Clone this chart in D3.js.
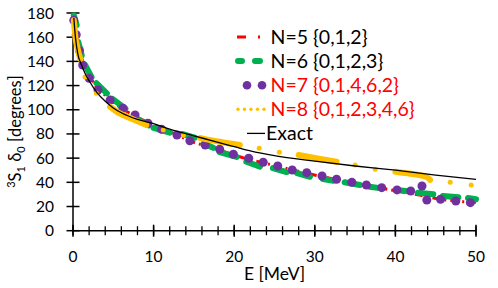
<!DOCTYPE html>
<html>
<head>
<meta charset="utf-8">
<script src="https://cdn.jsdelivr.net/npm/d3@7"></script>
<style>
  body { margin: 0; background: #fff; }
  svg { font-family: Lato, "Open Sans", sans-serif; }
</style>
</head>
<body>
<div id="chart"></div>
<script>
// exact phase shift curve
var exactE = [0.1, 0.3, 0.6, 1, 1.5, 2, 3, 4, 5, 6, 8, 10, 12, 15, 18, 20, 22, 25, 30, 35, 40, 45, 50];
var exactV = [176, 160, 146, 138, 130, 124, 114, 107, 101.5, 97.5, 92, 88.5, 84, 78.5, 73, 69.5, 66, 62, 57.5, 53.5, 50, 46, 42.5];

// N=5 {0,1,2}
var n5E = [0.1, 0.4, 0.8, 1.2, 2, 3, 4.5, 6, 7.1, 8.5, 10, 12, 13.5, 14.7, 16.5, 18.2, 20, 22, 24.8, 27, 30.3, 32.5, 35.6, 38, 40.6, 43, 45.5, 48.4, 50];
var n5V = [176, 163, 150, 140, 128, 118, 109, 101, 97, 92, 87.4, 82, 77.5, 73.6, 70, 66.5, 62.5, 58.5, 54.3, 50.5, 45.6, 42.5, 37.8, 35.5, 32.3, 29.5, 26, 24, 23.5];

// N=6 {0,1,2,3} - pieces of the curve (start E, start V, end E, end V)
var n6Pieces = [
  [0.1, 178, 0.45, 170], [0.66, 156, 1.08, 145], [1.5, 137, 2.3, 127],
  [2.9, 122, 4.2, 113.6], [4.9, 109, 6.5, 101], [7.5, 94, 9.4, 87],
  [10, 85, 12, 81], [13.5, 80, 15.1, 77], [16.2, 72, 17.4, 68.5],
  [18.2, 65, 20.3, 61], [21.5, 57, 23.2, 53], [24.8, 51.8, 26.5, 48.5],
  [27.8, 47.7, 29.4, 44.6], [31, 42.7, 32.3, 41.3], [33.7, 40, 35.6, 37.8],
  [36.8, 36.4, 38.3, 35], [40.2, 33.7, 42, 32.3], [42.8, 31.4, 44.7, 30.1],
  [45.9, 28.7, 47.8, 27.6], [49, 27, 50, 26]
];

// N=7 {0,1,4,6,2}
var n7E = [0.1, 0.4, 0.8, 1.2, 2, 3.1, 4.6, 6.2, 7.7, 9.3, 11, 12.9, 14.5, 16.4, 18.2, 19.9, 21.8, 23.6, 25.4, 27.2, 29, 30.9, 32.7, 34.6, 36.4, 38.3, 40.2, 41.9, 43.3, 43.9, 45.6, 47.5, 49.3];
var n7V = [174, 162, 149, 137, 126, 116.3, 108, 101.2, 95.7, 88.8, 83.8, 79.1, 74.4, 70.9, 67.3, 63.2, 59.9, 56.6, 53.5, 50.2, 48, 45.2, 42.5, 40, 37.8, 35.6, 33.7, 32.8, 37, 25.4, 26, 24.6, 23.2];

// N=8 {0,1,2,3,4,6} - dense runs and single points
var n8Runs = [
  [[0.1, 174], [0.3, 160], [0.6, 150], [0.9, 142]],
  [[4.6, 102.5], [5.8, 97], [7.5, 92], [9.1, 87.4]],
  [[15.8, 76.6], [18.2, 73.6], [20.7, 70.9]],
  [[28, 62.6], [30.5, 59.5], [32.7, 57]],
  [[40, 48.8], [41.5, 47.5], [43, 46], [44, 44], [44.3, 42]]
];
var n8SingleE = [1.5, 2.9, 11.2, 13.7, 23.1, 25.6, 35, 37.5, 46.8, 49.4];
var n8SingleV = [127, 113.6, 83.3, 79, 68.1, 64.8, 54.3, 50.8, 40, 37.8];

var xTicks = [0, 10, 20, 30, 40, 50];
var xMinor = d3.range(0, 51, 2);
var yTicks = [0, 20, 40, 60, 80, 100, 120, 140, 160, 180];

var legendNames = ["N=5 {0,1,2}", "N=6 {0,1,2,3}", "N=7 {0,1,4,6,2}", "N=8 {0,1,2,3,4,6}", "Exact"];
var legendTextColors = ["#000", "#000", "#ff0000", "#ff0000", "#000"];

var width = 498, height = 288;
var svg = d3.select("#chart").append("svg")
    .attr("width", width)
    .attr("height", height);

var x = d3.scaleLinear().domain([0, 50]).range([73, 476]);
var y = d3.scaleLinear().domain([0, 180]).range([230.7, 13]);

var line = d3.line()
    .x(function(d) { return x(d[0]); })
    .y(function(d) { return y(d[1]); });

// axes
var xAxis = svg.append("g").attr("transform", "translate(0," + y(0) + ")");
xAxis.append("line").attr("x1", x(0)).attr("x2", x(50))
    .attr("stroke", "#000").attr("stroke-width", 1.5);
xAxis.selectAll(".minor").data(xMinor).enter().append("line")
    .attr("x1", function(d) { return x(d); }).attr("x2", function(d) { return x(d); })
    .attr("y1", -4.5).attr("y2", 4.5)
    .attr("stroke", "#000").attr("stroke-width", 1.3);
xAxis.selectAll(".major").data(xTicks).enter().append("line")
    .attr("x1", function(d) { return x(d); }).attr("x2", function(d) { return x(d); })
    .attr("y1", -6).attr("y2", 6)
    .attr("stroke", "#000").attr("stroke-width", 1.5);
xAxis.selectAll("text").data(xTicks).enter().append("text")
    .attr("x", function(d) { return x(d); })
    .attr("y", 31)
    .attr("text-anchor", "middle")
    .style("font-size", "15.5px")
    .text(function(d) { return d; });

var yAxis = svg.append("g").attr("transform", "translate(" + x(0) + ",0)");
yAxis.append("line").attr("y1", y(0)).attr("y2", y(180))
    .attr("stroke", "#000").attr("stroke-width", 1.5);
yAxis.selectAll(".major").data(yTicks).enter().append("line")
    .attr("y1", function(d) { return y(d); }).attr("y2", function(d) { return y(d); })
    .attr("x1", -6.5).attr("x2", 6.5)
    .attr("stroke", "#000").attr("stroke-width", 1.5);
yAxis.selectAll("text").data(yTicks).enter().append("text")
    .attr("x", -19)
    .attr("y", function(d) { return y(d) + 5.5; })
    .attr("text-anchor", "end")
    .style("font-size", "15.5px")
    .text(function(d) { return d; });

// axis titles
svg.append("text")
    .attr("x", x(25)).attr("y", 280)
    .attr("text-anchor", "middle")
    .style("font-size", "17.5px")
    .text("E [MeV]");

var yTitle = svg.append("text")
    .attr("transform", "translate(21,131.5) rotate(-90)")
    .attr("text-anchor", "middle")
    .style("font-size", "16.5px");
yTitle.append("tspan").attr("dy", -6).style("font-size", "11px").text("3");
yTitle.append("tspan").attr("dy", 6).text("S");
yTitle.append("tspan").attr("dy", 4).style("font-size", "11px").text("1");
yTitle.append("tspan").attr("dy", -4).text(" δ");
yTitle.append("tspan").attr("dy", 4).style("font-size", "11px").text("0");
yTitle.append("tspan").attr("dy", -4).text(" [degrees]");

// series
var plot = svg.append("g");

plot.append("path")
    .datum(d3.zip(n5E, n5V))
    .attr("d", line)
    .attr("fill", "none")
    .attr("stroke", "#ff0000")
    .attr("stroke-width", 3)
    .attr("stroke-dasharray", "8,4,2,4");

plot.selectAll(".n6").data(n6Pieces).enter().append("path")
    .attr("d", function(d) { return line([[d[0], d[1]], [d[2], d[3]]]); })
    .attr("fill", "none")
    .attr("stroke", "#00b050")
    .attr("stroke-width", 6)
    .attr("stroke-linecap", "round");

plot.selectAll(".n7").data(d3.zip(n7E, n7V)).enter().append("circle")
    .attr("cx", function(d) { return x(d[0]); })
    .attr("cy", function(d) { return y(d[1]); })
    .attr("r", 4.5)
    .attr("fill", "#7030a0");

plot.selectAll(".n8run").data(n8Runs).enter().append("path")
    .attr("d", line.curve(d3.curveMonotoneX))
    .attr("fill", "none")
    .attr("stroke", "#ffc000")
    .attr("stroke-width", 6)
    .attr("stroke-linecap", "round")
    .attr("stroke-linejoin", "round");
line.curve(d3.curveLinear);

plot.selectAll(".n8pt").data(d3.zip(n8SingleE, n8SingleV)).enter().append("circle")
    .attr("cx", function(d) { return x(d[0]); })
    .attr("cy", function(d) { return y(d[1]); })
    .attr("r", 2.5)
    .attr("fill", "#ffc000");

plot.append("path")
    .datum(d3.zip(exactE, exactV))
    .attr("d", line.curve(d3.curveMonotoneX))
    .attr("fill", "none")
    .attr("stroke", "#000")
    .attr("stroke-width", 1.3);

// legend
var legend = svg.append("g");
var rowY = function(i) { return 37 + i * 24.1; };

legend.append("line")
    .attr("x1", 237).attr("x2", 262).attr("y1", rowY(0)).attr("y2", rowY(0))
    .attr("stroke", "#ff0000").attr("stroke-width", 3)
    .attr("stroke-dasharray", "9,12,2,10");
legend.append("line")
    .attr("x1", 238).attr("x2", 260).attr("y1", rowY(1)).attr("y2", rowY(1))
    .attr("stroke", "#00b050").attr("stroke-width", 6)
    .attr("stroke-linecap", "round")
    .attr("stroke-dasharray", "4,13,8");
legend.selectAll(".l7").data([247, 262]).enter().append("circle")
    .attr("cx", function(d) { return d; }).attr("cy", rowY(2))
    .attr("r", 4.3).attr("fill", "#7030a0");
legend.selectAll(".l8").data([238, 244.5, 251, 257.5, 264]).enter().append("circle")
    .attr("cx", function(d) { return d; }).attr("cy", rowY(3))
    .attr("r", 1.7).attr("fill", "#ffc000");
legend.append("line")
    .attr("x1", 247).attr("x2", 265).attr("y1", rowY(4)).attr("y2", rowY(4))
    .attr("stroke", "#000").attr("stroke-width", 1.3);

legend.selectAll("text").data(legendNames).enter().append("text")
    .attr("x", function(d, i) { return i == 4 ? 266 : 270.5; })
    .attr("y", function(d, i) { return rowY(i) + 7; })
    .attr("fill", function(d, i) { return legendTextColors[i]; })
    .style("font-size", "19.5px")
    .text(function(d) { return d; });
</script>
</body>
</html>
